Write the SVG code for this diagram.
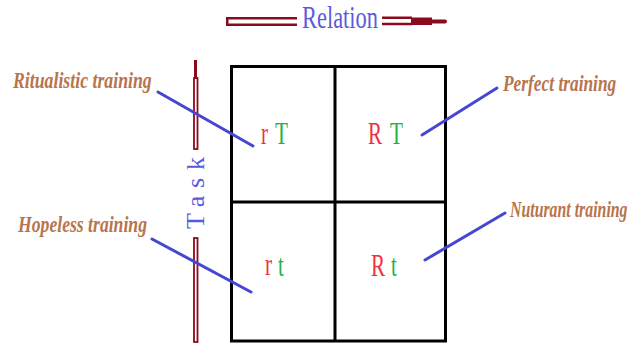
<svg xmlns="http://www.w3.org/2000/svg" width="637" height="345" viewBox="0 0 637 345">
<style>
.bar{fill:none;stroke:#8b0a1e;stroke-width:2.5}
.lbl{font-family:"Liberation Serif",serif;font-style:italic;font-weight:bold;font-size:24px;fill:#b8744c}
.ptr{stroke:#4646d2;stroke-width:3;stroke-linecap:round}
.big{font-family:"Liberation Serif",serif;font-size:32px}
.r{fill:#f2303c}
.g{fill:#20b444}
.axis{font-family:"Liberation Serif",serif;fill:#5a5ae0}
</style>
<rect width="637" height="345" fill="#fff"/>
<g id="relation-axis">
<path class="bar" d="M297,18.25 H227.25 V24.75 H297"/>
<text class="axis" x="302" y="28" font-size="31" textLength="76" lengthAdjust="spacingAndGlyphs">Relation</text>
<path class="bar" d="M382,17.75 H412 M382,24 H412"/>
<rect x="411" y="17.5" width="21" height="7.5" fill="#8b0a1e"/>
<line x1="431" y1="21.5" x2="445" y2="21.5" stroke="#8b0a1e" stroke-width="4" stroke-linecap="round"/>
</g>
<g id="task-axis">
<line x1="195.5" y1="60" x2="195.5" y2="79" stroke="#8b0a1e" stroke-width="3"/>
<rect x="194" y="78" width="3.5" height="71" fill="none" stroke="#8b0a1e" stroke-width="1.8"/>
<rect x="194" y="238" width="3.5" height="104" fill="none" stroke="#8b0a1e" stroke-width="1.8"/>
<text class="axis" transform="translate(204,229) rotate(-90)" x="0" y="0" font-size="26" textLength="72" lengthAdjust="spacing">Task</text>
</g>
<g id="grid">
<rect x="231.5" y="66.5" width="214" height="274.5" fill="none" stroke="#000" stroke-width="3"/>
<line x1="335" y1="66" x2="335" y2="341" stroke="#000" stroke-width="3"/>
<line x1="231" y1="202" x2="446" y2="202" stroke="#000" stroke-width="3"/>
</g>
<g id="cell-rT">
<text class="big r" transform="translate(261,144) scale(0.66,1)">r</text>
<text class="big g" transform="translate(275,144) scale(0.66,1)">T</text>
</g>
<g id="cell-RT">
<text class="big r" transform="translate(368,144) scale(0.66,1)">R</text>
<text class="big g" transform="translate(390,144) scale(0.66,1)">T</text>
</g>
<g id="cell-rt">
<text class="big r" transform="translate(265,275) scale(0.66,1)">r</text>
<text class="big g" transform="translate(278,276) scale(0.66,1)">t</text>
</g>
<g id="cell-Rt">
<text class="big r" transform="translate(371,276) scale(0.66,1)">R</text>
<text class="big g" transform="translate(391,276) scale(0.66,1)">t</text>
</g>
<g id="label-ritualistic">
<text class="lbl" transform="translate(13,88) scale(0.75,1)" textLength="185" lengthAdjust="spacingAndGlyphs">Ritualistic training</text>
</g>
<g id="label-hopeless">
<text class="lbl" transform="translate(18,232) scale(0.75,1)" textLength="172" lengthAdjust="spacingAndGlyphs">Hopeless training</text>
</g>
<g id="label-perfect">
<text class="lbl" transform="translate(503,91) scale(0.75,1)" textLength="151" lengthAdjust="spacingAndGlyphs">Perfect training</text>
</g>
<g id="label-nuturant">
<text class="lbl" transform="translate(510,217) scale(0.66,1)">Nuturant training</text>
</g>
<g id="connectors">
<line class="ptr" x1="158" y1="92" x2="253" y2="146"/>
<line class="ptr" x1="152" y1="239" x2="251" y2="292"/>
<line class="ptr" x1="497" y1="88" x2="422" y2="135"/>
<line class="ptr" x1="505" y1="213" x2="425" y2="260"/>
</g>
</svg>
